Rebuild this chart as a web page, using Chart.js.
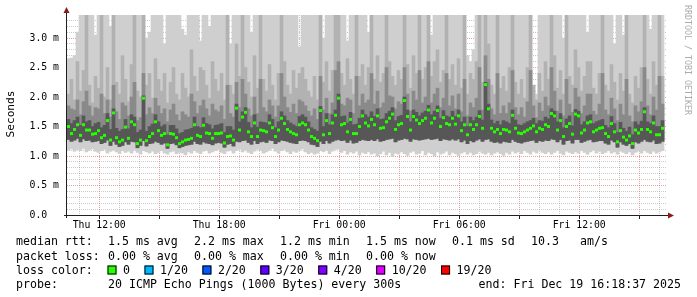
<!DOCTYPE html>
<html>
<head>
<meta charset="utf-8">
<script src="https://cdn.jsdelivr.net/npm/chart.js@4/dist/chart.umd.min.js"></script>
<style>
html,body{margin:0;padding:0;background:#ffffff;}
canvas{display:block;}
</style>
</head>
<body>
<canvas id="c" width="697" height="297"></canvas>
<script>
// ---- sampling (hours since Thu 00:00, 9-minute consolidated steps) ----
const startHour = 10.39;
const stepHours = 0.15;
const axisMinHour = 10.39;
const axisMaxHour = 40.39;
const yMax = 3.39;

// ---- median RTT (ms) ----
const medianRtt = [
1.50,1.38,1.45,1.53,1.35,1.53,1.44,1.44,1.37,1.38,
1.43,1.31,1.35,1.60,1.27,1.73,1.31,1.24,1.27,1.49,
1.30,1.58,1.53,1.21,1.27,1.98,1.26,1.33,1.38,1.58,
1.43,1.35,1.38,1.19,1.38,1.37,1.31,1.21,1.24,1.27,
1.28,1.30,1.53,1.35,1.33,1.52,1.39,1.38,1.30,1.38,
1.38,1.39,1.22,1.33,1.34,1.27,1.81,1.44,1.66,1.74,
1.41,1.33,1.56,1.33,1.44,1.43,1.41,1.56,1.48,1.33,
1.44,1.64,1.55,1.45,1.41,1.38,1.36,1.53,1.56,1.53,
1.44,1.33,1.30,1.26,1.77,1.36,1.60,1.38,1.56,1.69,
1.98,1.53,1.55,1.41,1.62,1.38,1.38,1.50,1.68,1.56,
1.51,1.62,1.53,1.68,1.47,1.48,1.58,1.64,1.71,1.45,
1.53,1.55,1.94,1.67,1.44,1.67,1.61,1.55,1.60,1.64,
1.78,1.56,1.64,1.77,1.50,1.65,1.55,1.53,1.64,1.54,
1.68,1.43,1.53,1.36,1.53,1.45,1.53,1.67,1.47,2.21,
1.80,1.47,1.41,1.45,1.38,1.45,1.44,1.41,1.69,1.47,
1.39,1.38,1.41,1.44,1.47,1.51,1.41,1.47,1.45,1.53,
1.50,1.72,1.68,1.44,1.60,1.33,1.50,1.55,1.37,1.71,
1.68,1.39,1.44,1.56,1.58,1.41,1.44,1.47,1.48,1.38,
1.33,1.55,1.41,1.24,1.43,1.32,1.27,1.34,1.21,1.44,
1.39,1.45,1.75,1.45,1.41,1.56,1.36,1.36,1.47
];
// ---- smoke: lowest ping ----
const pingMin = [
1.10,1.12,1.08,1.11,1.09,1.13,1.07,1.10,1.12,1.08,
1.06,1.09,1.11,1.05,1.08,1.10,1.07,1.04,1.09,1.06,
1.08,1.05,1.10,1.06,1.03,1.09,1.07,1.05,1.08,1.04,
1.06,1.09,1.05,1.03,1.07,1.08,1.04,1.06,1.05,1.02,
1.07,1.05,1.09,1.06,1.04,1.08,1.10,1.05,1.07,1.09,
1.11,1.06,1.04,1.08,1.10,1.05,1.09,1.12,1.07,1.10,
1.06,1.04,1.08,1.11,1.09,1.05,1.07,1.10,1.13,1.08,
1.05,1.09,1.11,1.07,1.04,1.08,1.06,1.10,1.12,1.07,
1.04,1.06,1.03,1.05,1.09,1.07,1.10,1.04,1.08,1.11,
1.12,1.06,1.09,1.03,1.07,1.05,1.08,1.02,1.06,1.04,
1.07,1.03,1.05,1.00,1.04,1.08,1.02,1.06,0.99,1.05,
1.03,1.07,1.04,1.01,1.06,1.08,1.03,1.05,1.09,1.02,
1.06,1.04,1.00,1.07,1.03,1.05,1.08,1.02,1.06,1.04,
1.01,1.05,1.07,1.03,1.06,1.02,1.04,1.08,1.05,1.03,
1.06,1.02,1.05,1.07,1.04,1.01,1.06,1.03,1.08,1.05,
1.07,1.04,1.09,1.06,1.03,1.08,1.05,1.10,1.06,1.04,
1.07,1.03,1.06,1.09,1.05,1.02,1.08,1.06,1.04,1.07,
1.05,1.09,1.06,1.03,1.07,1.10,1.05,1.08,1.04,1.06,
1.09,1.05,1.07,1.03,1.08,1.06,1.04,1.07,1.02,1.06,
1.08,1.05,1.09,1.06,1.04,1.08,1.05,1.07,1.09
];
// ---- smoke: lower edge of dense core ----
const pingQ1 = [
1.28,1.25,1.27,1.30,1.24,1.29,1.26,1.27,1.24,1.25,
1.26,1.21,1.23,1.27,1.18,1.25,1.20,1.16,1.18,1.24,
1.20,1.25,1.24,1.14,1.18,1.26,1.17,1.21,1.22,1.25,
1.23,1.20,1.22,1.13,1.21,1.22,1.19,1.14,1.16,1.18,
1.19,1.20,1.25,1.21,1.20,1.24,1.22,1.21,1.19,1.22,
1.23,1.22,1.15,1.20,1.21,1.17,1.25,1.24,1.26,1.27,
1.23,1.20,1.26,1.21,1.24,1.25,1.23,1.27,1.26,1.21,
1.24,1.27,1.26,1.25,1.23,1.22,1.21,1.26,1.27,1.26,
1.24,1.20,1.19,1.16,1.25,1.21,1.26,1.22,1.25,1.27,
1.28,1.26,1.27,1.23,1.27,1.22,1.23,1.26,1.28,1.27,
1.26,1.28,1.26,1.29,1.25,1.26,1.28,1.29,1.30,1.24,
1.27,1.28,1.30,1.29,1.25,1.29,1.28,1.27,1.28,1.29,
1.30,1.28,1.29,1.30,1.26,1.29,1.28,1.27,1.29,1.27,
1.29,1.24,1.27,1.21,1.26,1.24,1.27,1.29,1.25,1.28,
1.29,1.25,1.23,1.24,1.22,1.25,1.24,1.23,1.28,1.25,
1.23,1.22,1.24,1.25,1.26,1.27,1.23,1.26,1.25,1.27,
1.26,1.29,1.28,1.24,1.28,1.20,1.26,1.27,1.22,1.28,
1.28,1.23,1.25,1.27,1.28,1.24,1.25,1.26,1.26,1.22,
1.20,1.27,1.24,1.15,1.24,1.20,1.18,1.21,1.13,1.24,
1.22,1.25,1.28,1.25,1.24,1.27,1.21,1.22,1.25
];
// ---- smoke: upper edge of dense core ----
const pingQ3 = [
1.62,1.55,1.60,1.66,1.52,1.68,1.58,1.60,1.50,1.55,
1.57,1.48,1.52,1.72,1.45,1.80,1.47,1.42,1.45,1.62,
1.46,1.70,1.66,1.40,1.44,2.02,1.42,1.50,1.54,1.70,
1.58,1.50,1.53,1.36,1.52,1.52,1.46,1.38,1.40,1.44,
1.45,1.47,1.66,1.50,1.48,1.65,1.55,1.53,1.46,1.52,
1.53,1.55,1.40,1.50,1.50,1.44,1.88,1.58,1.75,1.82,
1.57,1.48,1.70,1.49,1.58,1.57,1.56,1.70,1.62,1.48,
1.58,1.75,1.68,1.60,1.56,1.53,1.50,1.67,1.70,1.66,
1.58,1.48,1.45,1.42,1.84,1.50,1.72,1.53,1.70,1.78,
2.05,1.67,1.68,1.56,1.74,1.53,1.54,1.64,1.78,1.70,
1.66,1.75,1.67,1.80,1.62,1.63,1.72,1.76,1.82,1.60,
1.67,1.69,2.00,1.78,1.58,1.78,1.74,1.68,1.73,1.76,
1.86,1.70,1.76,1.85,1.64,1.77,1.68,1.66,1.76,1.67,
1.78,1.58,1.66,1.50,1.66,1.60,1.66,1.77,1.61,2.25,
1.88,1.61,1.55,1.59,1.53,1.60,1.58,1.55,1.78,1.61,
1.53,1.52,1.55,1.58,1.60,1.64,1.55,1.60,1.59,1.66,
1.63,1.80,1.76,1.58,1.72,1.48,1.63,1.68,1.51,1.79,
1.76,1.53,1.58,1.68,1.70,1.55,1.58,1.60,1.62,1.52,
1.48,1.67,1.55,1.40,1.57,1.47,1.42,1.49,1.36,1.58,
1.53,1.59,1.82,1.58,1.55,1.68,1.50,1.50,1.60
];
// ---- smoke: upper edge of darker-medium layer ----
const pingP75 = [
1.85,1.80,1.78,1.95,1.70,1.92,2.10,1.85,1.68,1.82,
1.80,2.05,1.72,1.95,1.66,2.20,1.75,1.62,1.90,1.85,
1.68,2.00,2.25,1.60,1.65,2.40,1.70,1.82,1.72,1.98,
1.85,1.72,1.80,1.58,1.78,1.88,1.70,1.60,1.75,1.70,
1.66,2.05,1.92,1.72,1.85,1.95,1.80,1.68,1.88,1.78,
1.75,1.85,1.62,2.20,1.72,1.66,2.25,1.82,2.30,2.05,
1.80,1.68,2.00,1.72,2.30,1.82,1.75,1.95,1.85,1.66,
1.85,2.40,2.00,1.82,1.74,1.88,1.72,1.95,1.92,1.85,
1.76,1.68,1.80,1.62,2.35,1.78,1.98,1.72,1.90,2.45,
2.60,1.88,1.85,1.98,1.95,1.72,2.35,1.85,2.05,1.90,
1.95,2.40,1.88,2.10,1.82,1.90,2.50,2.02,2.00,1.80,
1.92,1.88,2.50,2.05,1.76,2.10,1.95,2.45,1.90,2.00,
2.60,1.90,2.05,2.15,1.82,1.98,2.40,1.85,2.02,1.80,
2.05,1.75,2.30,1.68,1.90,1.82,1.98,2.50,1.78,2.70,
2.30,1.80,1.70,2.40,1.72,1.85,1.72,1.90,2.45,1.82,
1.70,1.82,1.66,1.92,2.45,1.85,1.65,1.90,1.76,2.00,
1.85,2.50,2.10,1.76,1.95,1.68,2.30,1.88,1.74,2.15,
2.00,1.72,1.85,2.05,2.05,1.76,1.70,1.88,2.40,1.78,
1.70,1.98,1.80,1.60,1.88,1.70,2.30,1.68,1.58,1.85,
1.75,1.92,2.50,1.85,1.70,2.00,1.78,2.35,1.88
];
// ---- smoke: upper edge of medium layer ----
const pingP90 = [
2.05,2.30,1.95,2.60,2.10,2.45,3.40,2.20,1.90,2.35,
2.15,3.40,2.00,2.50,1.95,3.40,2.25,2.05,2.70,2.30,
1.92,2.55,3.40,2.10,2.00,3.40,2.20,2.40,1.98,2.65,
2.30,2.10,2.40,1.90,2.25,2.50,2.05,1.95,2.40,2.15,
2.00,2.80,2.35,2.10,2.50,2.45,2.20,1.98,2.60,2.30,
2.10,2.40,1.95,3.40,2.20,2.05,2.90,2.35,3.40,2.50,
2.25,2.00,2.70,2.15,3.40,2.30,2.10,2.55,2.20,1.95,
2.40,3.40,2.60,2.20,2.05,2.45,2.15,2.40,2.50,2.30,
2.10,2.00,2.35,1.95,3.40,2.25,2.60,2.10,2.45,3.40,
3.40,2.40,2.20,2.65,2.30,2.05,3.40,2.35,2.55,2.20,
2.50,3.40,2.30,2.70,2.25,2.40,3.40,2.60,2.35,2.20,
2.45,2.30,3.40,2.55,2.15,2.70,2.40,3.40,2.30,2.50,
3.40,2.35,2.60,2.80,2.25,2.45,3.40,2.30,2.55,2.20,
2.65,2.15,3.40,2.05,2.40,2.30,2.60,3.40,2.25,3.40,
2.90,2.20,2.05,3.40,2.15,2.35,2.10,2.50,3.40,2.25,
2.05,2.30,1.98,2.50,3.40,2.20,1.95,2.40,2.10,2.60,
2.30,3.40,2.70,2.15,2.45,2.05,3.40,2.35,2.20,2.80,
2.50,2.10,2.35,2.60,2.60,2.15,2.05,2.40,3.40,2.20,
2.10,2.55,2.25,1.95,2.40,2.10,3.40,2.05,1.90,2.35,
2.15,2.50,3.40,2.30,2.05,2.60,2.20,3.40,2.35
];
// ---- smoke: highest ping (clipped at top of graph) ----
const pingMax = [
2.65,2.66,2.70,3.10,3.40,3.40,3.40,3.40,3.40,3.05,
3.40,3.40,3.40,3.40,3.20,3.40,3.40,3.40,3.40,3.40,
3.40,3.40,3.40,3.40,3.40,3.40,3.00,3.10,3.40,3.40,
3.40,3.40,2.90,3.40,3.40,3.40,3.40,3.40,3.15,3.05,
3.40,3.40,3.40,3.40,2.95,3.40,3.40,3.20,3.40,3.40,
3.40,3.40,3.40,3.40,2.90,3.40,3.40,3.40,3.40,3.40,
3.40,3.10,3.40,3.40,3.40,3.40,3.40,3.40,3.40,3.40,
3.40,3.40,3.40,3.40,3.40,3.40,3.40,2.85,3.40,3.40,
3.40,3.40,3.40,3.40,3.40,3.00,3.40,3.40,3.40,3.40,
3.40,3.40,3.40,2.95,3.40,3.40,3.40,3.40,3.40,3.40,
3.10,3.40,3.40,3.40,3.40,3.40,3.40,3.40,3.40,3.40,
3.40,3.40,3.40,3.40,3.40,3.40,3.40,3.40,3.40,3.40,
3.40,3.05,3.40,3.40,3.40,3.40,3.40,3.40,3.40,3.40,
3.40,3.40,3.40,2.70,2.60,2.80,3.40,3.40,3.40,3.40,
3.40,3.40,3.40,3.40,3.40,3.40,3.40,3.40,3.40,3.40,
3.40,3.40,3.40,3.40,3.40,2.20,2.05,3.40,3.40,3.40,
3.40,3.40,3.40,3.40,3.40,3.00,3.40,3.40,3.40,3.40,
3.40,3.40,3.40,3.10,3.40,3.40,3.40,3.40,3.40,3.40,
3.40,3.40,2.90,3.40,3.40,3.05,3.40,3.40,3.40,3.40,
3.40,3.40,3.40,3.40,3.15,3.40,3.40,3.40,3.40
];

// ---- axis ticks ----
const xTickHours = [12, 18, 24, 30, 36];
const xTickLabels = ['Thu 12:00', 'Thu 18:00', 'Fri 00:00', 'Fri 06:00', 'Fri 12:00'];
const yTickValues = [0, 0.5, 1.0, 1.5, 2.0, 2.5, 3.0];
const yTickLabels = ['0.0  ', '0.5 m', '1.0 m', '1.5 m', '2.0 m', '2.5 m', '3.0 m'];

// ---- legend texts ----
const medianStats = ['1.5 ms avg', '2.2 ms max', '1.2 ms min', '1.5 ms now', '0.1 ms sd'];
const medianRate = ['10.3', 'am/s'];
const lossStats = ['0.00 % avg', '0.00 % max', '0.00 % min', '0.00 % now'];
const lossLabels = ['0', '1/20', '2/20', '3/20', '4/20', '10/20', '19/20'];
const lossColors = ['#26ff00', '#00b8ff', '#0059ff', '#5e00ff', '#7e00ff', '#dd00ff', '#ff0000'];
const probeText = '20 ICMP Echo Pings (1000 Bytes) every 300s';
const endText = 'end: Fri Dec 19 16:18:37 2025';

const MONO = '"DejaVu Sans Mono", "Liberation Mono", monospace';
const times = medianRtt.map((_, i) => startHour + stepHours * (i + 0.5));
const band = (lo, hi) => times.map((t, i) => ({x: t, y: [lo[i], hi[i]]}));
const hourTicks = [];
for (let h = Math.ceil(axisMinHour); h <= Math.floor(axisMaxHour); h++) hourTicks.push(h);
const yMinorTicks = [];
for (let k = 0; k * 0.1 <= yMax + 1e-9; k++) yMinorTicks.push(Math.round(k) / 10);

const isMajorY = v => yTickValues.some(t => Math.abs(t - v) < 1e-6);
const MAJOR_GRID = 'rgba(215,80,80,0.55)';
const MINOR_GRID = 'rgba(120,120,120,0.38)';

const barCommon = {
  type: 'bar', grouped: false, barPercentage: 1, categoryPercentage: 1,
  borderWidth: 0, borderSkipped: false
};

const decor = {
  id: 'decor',
  afterDraw(chart) {
    const {ctx, chartArea: a, scales} = chart;
    const xs = scales.x;
    ctx.save();
    ctx.strokeStyle = '#1f1f1f';
    ctx.lineWidth = 1;
    ctx.beginPath();
    ctx.moveTo(a.left - 0.5, a.top - 3);
    ctx.lineTo(a.left - 0.5, a.bottom + 3);
    ctx.moveTo(a.left - 3, a.bottom + 0.5);
    ctx.lineTo(a.right + 2, a.bottom + 0.5);
    hourTicks.forEach(h => {
      if (h % 3 === 0) {
        const px = Math.round(xs.getPixelForValue(h)) + 0.5;
        ctx.moveTo(px, a.bottom);
        ctx.lineTo(px, a.bottom + 4);
      }
    });
    ctx.stroke();
    ctx.fillStyle = '#8b1a1a';
    ctx.beginPath();
    ctx.moveTo(a.left - 0.5, a.top - 8);
    ctx.lineTo(a.left - 3.5, a.top - 2);
    ctx.lineTo(a.left + 2.5, a.top - 2);
    ctx.closePath();
    ctx.fill();
    ctx.beginPath();
    ctx.moveTo(a.right + 7, a.bottom + 0.5);
    ctx.lineTo(a.right + 1, a.bottom - 2.5);
    ctx.lineTo(a.right + 1, a.bottom + 3.5);
    ctx.closePath();
    ctx.fill();

    ctx.fillStyle = '#000';
    ctx.font = '11.2px ' + MONO;
    ctx.save();
    ctx.translate(11, (a.top + a.bottom) / 2 - 1);
    ctx.rotate(-Math.PI / 2);
    ctx.textAlign = 'center';
    ctx.textBaseline = 'middle';
    ctx.fillText('Seconds', 0, 0);
    ctx.restore();

    ctx.save();
    ctx.fillStyle = '#ababab';
    ctx.font = '8.3px ' + MONO;
    ctx.translate(687, 5);
    ctx.rotate(Math.PI / 2);
    ctx.textAlign = 'left';
    ctx.textBaseline = 'middle';
    ctx.fillText('RRDTOOL / TOBI OETIKER', 0, 0);
    ctx.restore();

    ctx.fillStyle = '#000';
    ctx.font = '11.6px ' + MONO;
    ctx.textAlign = 'left';
    ctx.textBaseline = 'alphabetic';
    const colX = [108, 194, 280, 366, 452];
    const rows = [245, 259.5, 273.5, 287.5];
    ctx.fillText('median rtt:', 16, rows[0]);
    medianStats.forEach((s, i) => ctx.fillText(s, colX[i], rows[0]));
    ctx.fillText(medianRate[0], 531, rows[0]);
    ctx.fillText(medianRate[1], 580, rows[0]);
    ctx.fillText('packet loss:', 16, rows[1]);
    lossStats.forEach((s, i) => ctx.fillText(s, colX[i], rows[1]));
    ctx.fillText('loss color:', 16, rows[2]);
    let bx = 107.5;
    lossLabels.forEach((lab, i) => {
      ctx.fillStyle = lossColors[i];
      ctx.fillRect(bx, rows[2] - 8, 9, 9);
      ctx.strokeStyle = '#000';
      ctx.strokeRect(bx + 0.5, rows[2] - 7.5, 8, 8);
      ctx.fillStyle = '#000';
      const tx = bx + 15.5;
      ctx.fillText(lab, tx, rows[2]);
      bx = tx + ctx.measureText(lab).width + 14.5;
    });
    ctx.fillText('probe:', 16, rows[3]);
    ctx.fillText(probeText, 108, rows[3]);
    ctx.textAlign = 'right';
    ctx.fillText(endText, 681, rows[3]);
    ctx.restore();
  }
};

new Chart(document.getElementById('c'), {
  type: 'bar',
  data: {
    datasets: [
      {type: 'line', data: times.map((t, i) => ({x: t, y: medianRtt[i]})), showLine: false,
       pointStyle: 'rect', pointRadius: 2.1, pointBackgroundColor: '#26ff00',
       pointBorderWidth: 0, pointBorderColor: 'rgba(0,0,0,0)', order: 0},
      Object.assign({data: band(pingQ1, pingQ3), backgroundColor: '#575757', order: 1}, barCommon),
      Object.assign({data: band(pingQ1, pingP75), backgroundColor: '#8a8a8a', order: 2}, barCommon),
      Object.assign({data: band(pingQ1, pingP90), backgroundColor: '#b2b2b2', order: 3}, barCommon),
      Object.assign({data: band(pingMin, pingMax), backgroundColor: '#cfcfcf', order: 4}, barCommon)
    ]
  },
  options: {
    responsive: false,
    animation: false,
    devicePixelRatio: 1,
    events: [],
    layout: {padding: {left: 0, right: 30, top: 15, bottom: 0}},
    plugins: {legend: {display: false}, tooltip: {enabled: false}},
    scales: {
      x: {
        type: 'linear', min: axisMinHour, max: axisMaxHour, offset: false, z: 1,
        afterBuildTicks: s => { s.ticks = hourTicks.map(v => ({value: v})); },
        afterFit: s => { s.height = 82; },
        grid: {offset: false, drawTicks: false, lineWidth: 1,
               color: c => (c.tick && c.tick.value % 3 === 0) ? MAJOR_GRID : MINOR_GRID},
        border: {display: false, dash: [1, 1]},
        ticks: {autoSkip: false, maxRotation: 0, minRotation: 0, padding: 5, color: '#000',
                font: {family: MONO, size: 9.8},
                callback: v => { const i = xTickHours.indexOf(v); return i >= 0 ? xTickLabels[i] : ''; }}
      },
      y: {
        type: 'linear', min: 0, max: yMax, z: 1,
        afterBuildTicks: s => { s.ticks = yMinorTicks.map(v => ({value: v})); },
        afterFit: s => { s.width = 67; },
        grid: {drawTicks: false, lineWidth: 1,
               color: c => (c.tick && isMajorY(c.tick.value)) ? MAJOR_GRID : MINOR_GRID},
        border: {display: false, dash: [1, 1]},
        ticks: {autoSkip: false, padding: 8, color: '#000',
                font: {family: MONO, size: 9.8},
                callback: v => { const i = yTickValues.findIndex(t => Math.abs(t - v) < 1e-6); return i >= 0 ? yTickLabels[i] : ''; }}
      }
    }
  },
  plugins: [decor]
});
</script>
</body>
</html>
